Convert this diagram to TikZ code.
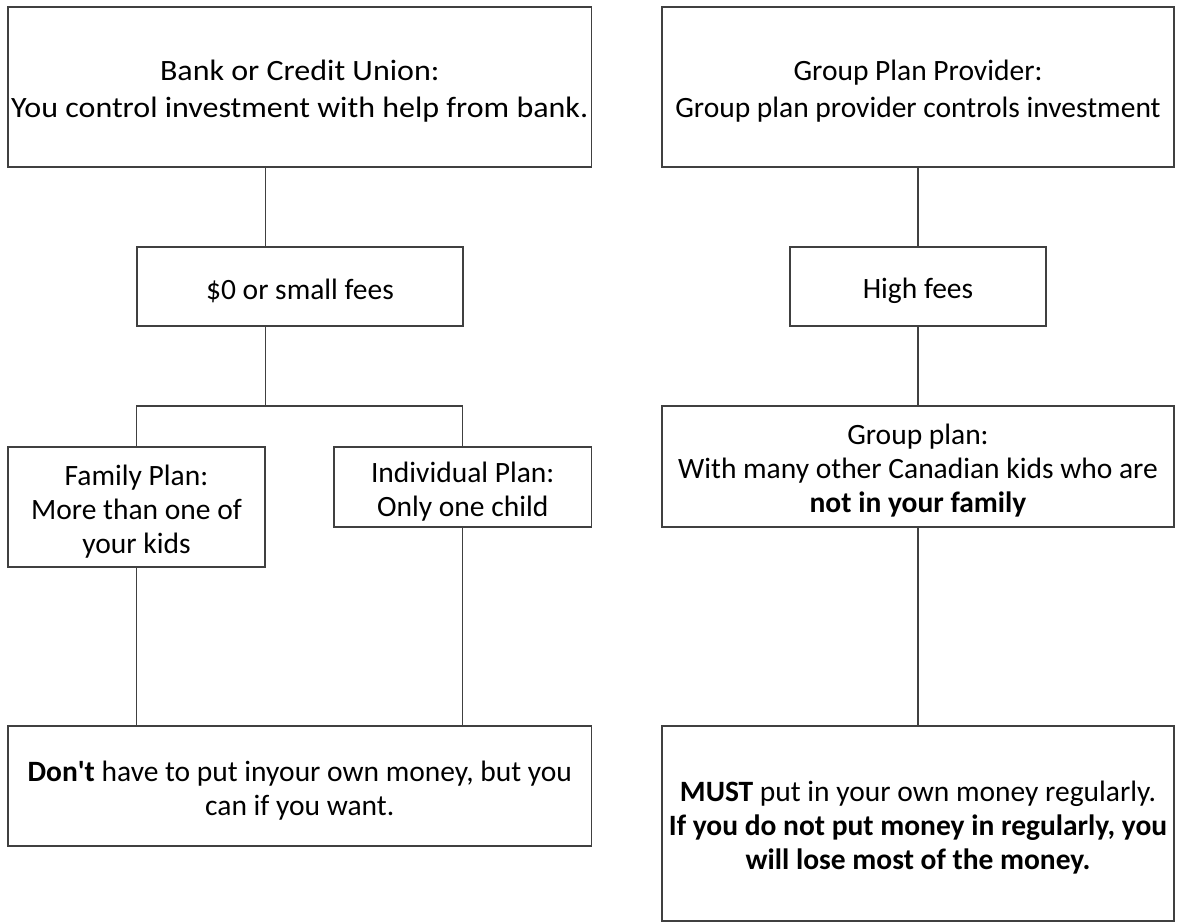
\documentclass[tikz,border=0pt]{standalone}
\usepackage{fontspec}
\setmainfont{Carlito}
\usetikzlibrary{calc}

% strut that lowers the text a little inside its box
\newcommand{\lowtext}{\rule{0pt}{29pt}}

\begin{document}
\begin{tikzpicture}[x=1pt, y=-1pt,
    every node/.style={font=\fontsize{29.5}{34}\selectfont, text=black},
    planbox/.style={draw=black!75, line width=1.1pt, rectangle, align=center, inner sep=0pt},
    topbox/.style={planbox, minimum height=160, font=\fontsize{29.5}{37}\selectfont},
    link/.style={draw=black!75, line width=1.1pt},
    ]
    \useasboundingbox (0,0) rectangle (1179,924);

    % left column: bank or credit union
    \node [topbox, minimum width=583.5] (bank) at (299.75,87)
        {\lowtext\scalebox{1.085}[1]{Bank or Credit Union:}\\\scalebox{1.085}[1]{You control investment with help from bank.}};
    \node [planbox, minimum width=326, minimum height=79] (fees) at (300,286.5)
        {\lowtext\$0 or small fees};
    \node [planbox, minimum width=257, minimum height=120] (family) at (136.5,507)
        {\lowtext Family Plan:\\More than one of\\your kids};
    \node [planbox, minimum width=257.5, minimum height=80] (indiv) at (462.75,487)
        {\lowtext Individual Plan:\\Only one child};
    \node [planbox, minimum width=583.5, minimum height=120] (dont) at (299.75,786)
        {\lowtext\textbf{Don\textquotesingle t} have to put inyour own money, but you\\can if you want.};

    % right column: group plan provider
    \node [topbox, minimum width=512] (provider) at (918,87)
        {\lowtext Group Plan Provider:\\Group plan provider controls investment};
    \node [planbox, minimum width=256, minimum height=79] (high) at (918,286.5)
        {\lowtext High fees};
    \node [planbox, minimum width=512, minimum height=121] (group) at (918,466.5)
        {\lowtext Group plan:\\With many other Canadian kids who are\\\textbf{not in your family}};
    \node [planbox, minimum width=512, minimum height=195] (must) at (918,823.5)
        {\lowtext\textbf{MUST} put in your own money regularly.\\\textbf{If you do not put money in regularly, you}\\\textbf{will lose most of the money.}};

    \coordinate (bar) at (family.east |- 0,406);

    \draw [link] (bank.south -| bar) -- (fees.north -| bar);
    \draw [link] (fees.south -| bar) -- (bar);
    \draw [link] (family.north) -- (family.north |- bar) -- (indiv.north |- bar) -- (indiv.north);
    \draw [link] (family.south) -- (dont.north -| family.south);
    \draw [link] (indiv.south) -- (dont.north -| indiv.south);

    \draw [link] (provider.south) -- (high.north);
    \draw [link] (high.south) -- (group.north);
    \draw [link] (group.south) -- (must.north);
\end{tikzpicture}
\end{document}
